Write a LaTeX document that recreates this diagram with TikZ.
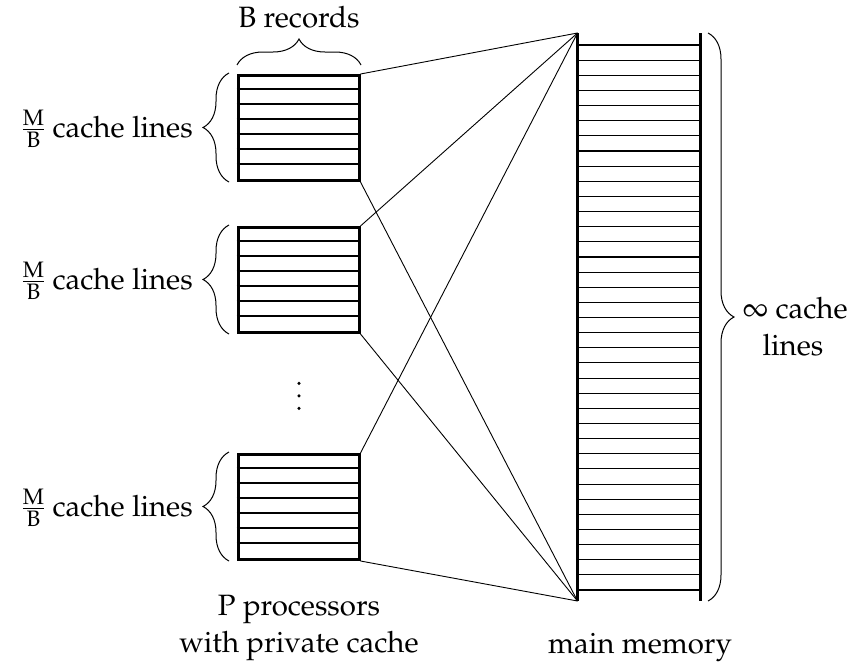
\documentclass[tikz,border=0pt]{standalone}
\usepackage[T1]{fontenc}
\usepackage{mathpazo}
\usetikzlibrary{decorations.pathreplacing}

\tikzset{
  cachebox/.style={draw, line width=3pt, minimum width=121pt, minimum height=105pt, inner sep=0pt},
  rowline/.style={line width=1.1pt},
  memwall/.style={line width=3.5pt},
  wire/.style={line width=0.9pt},
  curly/.style={decorate, decoration={brace, amplitude=26pt}, line width=1pt},
  lbl/.style={inner sep=0pt, font=\fontsize{29.4}{37}\selectfont}
}
\newcommand{\mbfrac}{$\frac{\mathrm{M}}{\mathrm{B}}$}

\begin{document}
\begin{tikzpicture}[x=1pt, y=-1pt]
  \useasboundingbox (0,0) rectangle (856,664);

  % private caches of the processors, seven lines each
  \foreach \n/\cy in {c1/128, c2/280, c3/507} {
    \node[cachebox] (\n) at (298.5,\cy) {};
    \foreach \k in {1,...,6}
      \draw[rowline] ([yshift=-\k*15pt]\n.north west) -- ([yshift=-\k*15pt]\n.north east);
  }

  % main memory: open-ended column of cache lines
  \coordinate (mtop) at (577.5,33);
  \coordinate (mbot) at (577.5,601);
  \coordinate (mtopr) at (700.7,33);
  \coordinate (mbotr) at (700.7,601);
  \foreach \k in {0,...,36}
    \draw[rowline] (577.5,45+\k*15.14) -- (700.7,45+\k*15.14);
  \draw[memwall] (mtop) -- (mbot);
  \draw[memwall] (mtopr) -- (mbotr);

  % every cache is connected to the whole memory
  \foreach \n in {c1,c2,c3} {
    \draw[wire] (\n.north east) -- (mtop);
    \draw[wire] (\n.south east) -- (mbot);
  }

  % braces
  \coordinate (bl) at (237,65);
  \coordinate (br) at (361,65);
  \draw[curly] (bl) -- (br);
  \foreach \n/\cy in {c1/128, c2/280, c3/507} {
    \coordinate (\n lo) at (229,\cy+54);
    \coordinate (\n hi) at (229,\cy-55);
    \draw[curly] (\n lo) -- (\n hi);
  }
  \coordinate (rt) at (708,33);
  \coordinate (rb) at (708,601);
  \draw[curly] (rt) -- (rb);

  % more processors in between
  \foreach \y in {383.3,395.8,408.3}
    \fill (299,\y) circle (1.7pt);

  % labels
  \node[lbl, anchor=base] (brec) at (299,27) {B records};
  \node[lbl, anchor=base east] (l1) at (193,137) {\mbfrac{} cache lines};
  \node[lbl, anchor=base east] (l2) at (193,289) {\mbfrac{} cache lines};
  \node[lbl, anchor=base east] (l3) at (193,516) {\mbfrac{} cache lines};
  \node[lbl, anchor=base] (inf1) at (795,318) {$\infty$ cache};
  \node[lbl, anchor=base] (inf2) at (793,355) {lines};
  \node[lbl, anchor=base] (p1) at (299,615) {P processors};
  \node[lbl, anchor=base] (p2) at (299,652) {with private cache};
  \node[lbl, anchor=base] (mm) at (640,653) {main memory};
\end{tikzpicture}
\end{document}
